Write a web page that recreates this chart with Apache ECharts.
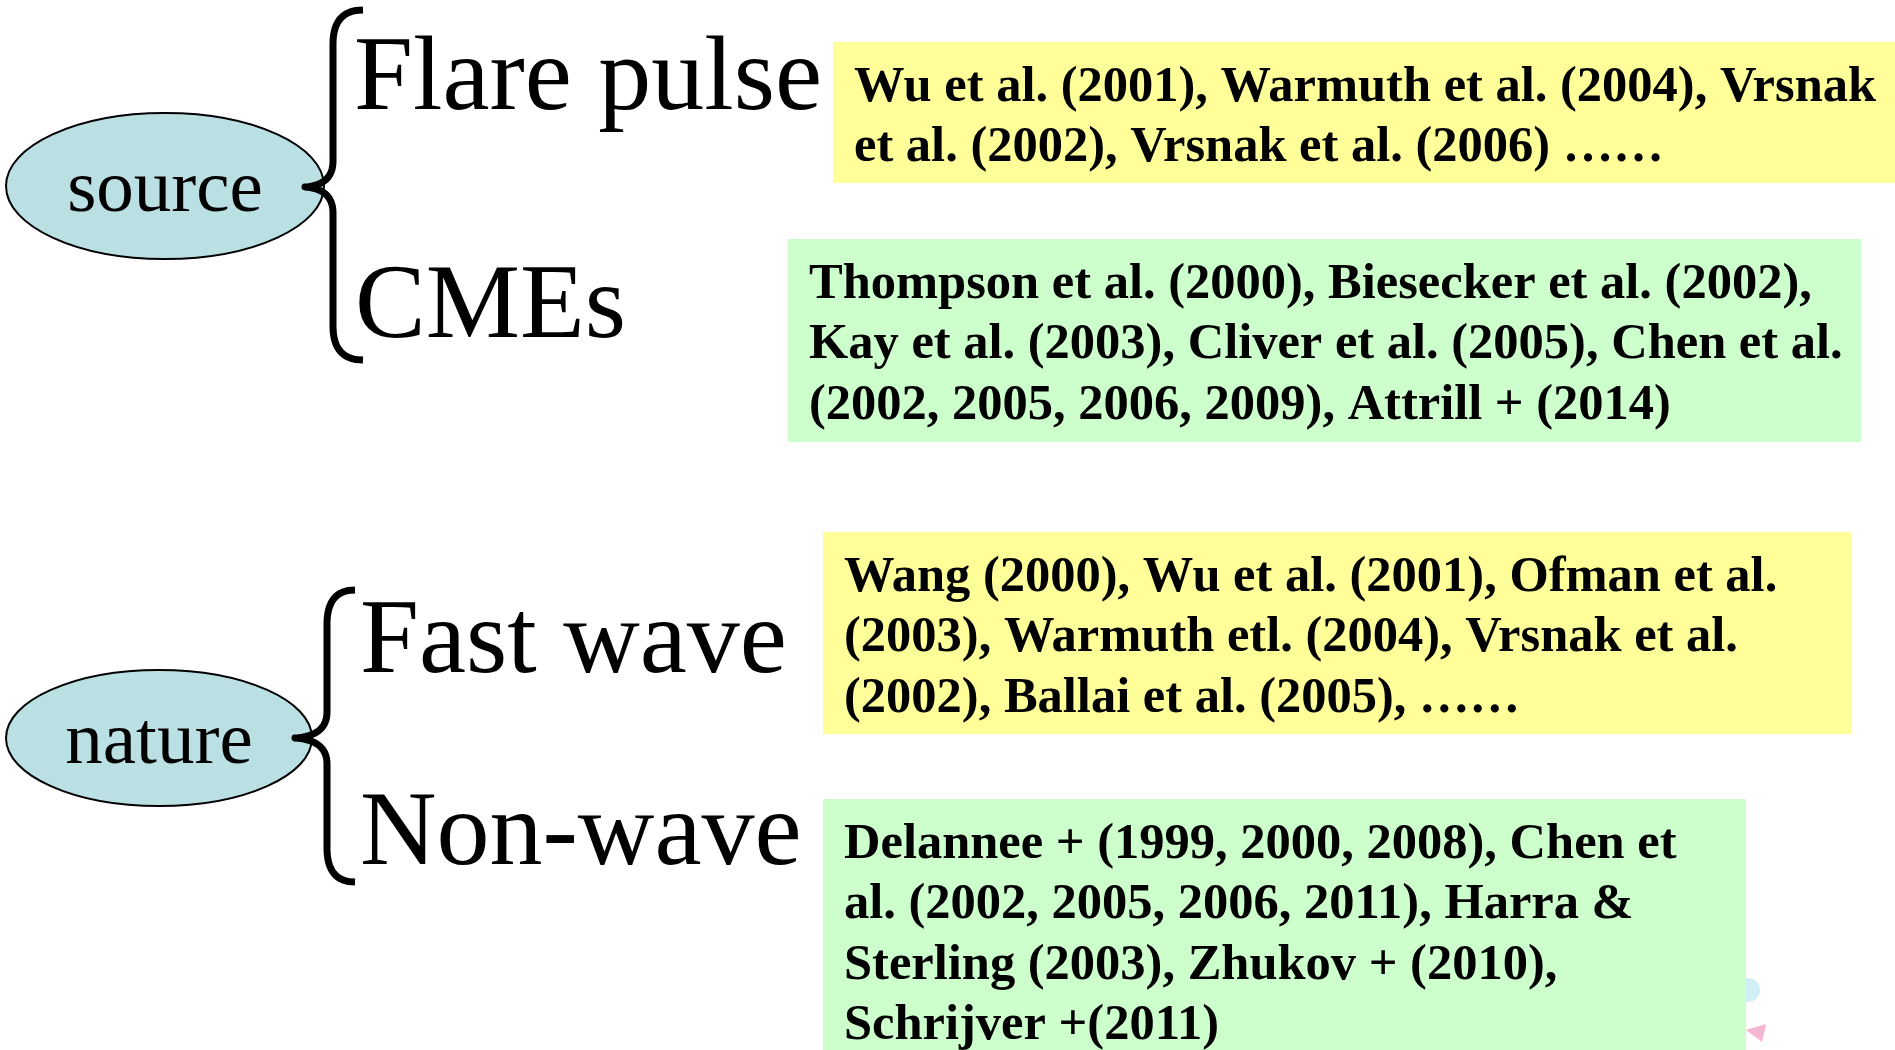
<!DOCTYPE html>
<html>
<head>
<meta charset="utf-8">
<title>EIT wave: source and nature</title>
<script src="https://cdn.jsdelivr.net/npm/echarts@6/dist/echarts.min.js"></script>
<style>
  html, body { margin: 0; padding: 0; background: #fff; }
  #main { width: 1895px; height: 1050px; }
</style>
</head>
<body>
<div id="main"></div>
<script>
// data
var groups = ['source', 'nature'];
var branches = ['Flare pulse', 'CMEs', 'Fast wave', 'Non-wave'];
var refLines = [
  ['Wu et al. (2001), Warmuth et al. (2004), Vrsnak',
   'et al. (2002), Vrsnak et al. (2006) \u2026\u2026'],
  ['Thompson et al. (2000), Biesecker et al. (2002),',
   'Kay et al. (2003), Cliver et al. (2005), Chen et al.',
   '(2002, 2005, 2006, 2009), Attrill + (2014)'],
  ['Wang (2000), Wu et al. (2001), Ofman et al.',
   '(2003), Warmuth etl. (2004), Vrsnak et al.',
   '(2002), Ballai et al. (2005), \u2026\u2026'],
  ['Delannee + (1999, 2000, 2008), Chen et',
   'al. (2002, 2005, 2006, 2011), Harra &',
   'Sterling (2003), Zhukov + (2010),',
   'Schrijver +(2011)']
];

// layout
var SERIF = '"Liberation Serif", "Times New Roman", serif';
var ASC = 0.77; // top of text box -> baseline, in em
var ovals = [
  { cx: 165, cy: 186, rx: 159, ry: 73 },
  { cx: 159, cy: 738, rx: 153, ry: 68 }
];
var braces = [
  { top: 10, tip: 187, bottom: 360, stem: 333, tipX: 305, end: 363 },
  { top: 590, tip: 738, bottom: 882, stem: 327, tipX: 295, end: 355 }
];
var branchPos = [[354, 110], [355, 338], [360, 673], [360, 865]];
var boxes = [
  { x: 833, y: 42, w: 1062, h: 141, fill: '#FFFF99' },
  { x: 788, y: 239, w: 1073, h: 203, fill: '#CCFFCC' },
  { x: 823, y: 532, w: 1028, h: 202, fill: '#FFFF99' },
  { x: 823, y: 799, w: 923, h: 260, fill: '#CCFFCC' }
];
var refFont = 50.5, lineGap = 60.5;

// sample a quadratic curve into points
function quad(p0, c, p1, n) {
  var pts = [];
  for (var i = 1; i <= n; i++) {
    var t = i / n, u = 1 - t;
    pts.push([u * u * p0[0] + 2 * u * t * c[0] + t * t * p1[0],
              u * u * p0[1] + 2 * u * t * c[1] + t * t * p1[1]]);
  }
  return pts;
}
function bracePoints(b) {
  var s = b.stem, r = 34, k = 26;
  var pts = [[b.end, b.top]];
  pts = pts.concat(quad([b.end, b.top], [s, b.top], [s, b.top + r], 16));
  pts.push([s, b.tip - k]);
  pts = pts.concat(quad([s, b.tip - k], [s, b.tip - 2], [b.tipX, b.tip], 16));
  pts = pts.concat(quad([b.tipX, b.tip], [s, b.tip + 2], [s, b.tip + k], 16));
  pts.push([s, b.bottom - r]);
  pts = pts.concat(quad([s, b.bottom - r], [s, b.bottom], [b.end, b.bottom], 16));
  return pts;
}
function baseText(t, x, y, size, weight, align) {
  return {
    type: 'text',
    style: {
      text: t, x: x, y: y - ASC * size,
      font: weight + ' ' + size + 'px ' + SERIF,
      fill: '#000', align: align, verticalAlign: 'top'
    }
  };
}

var elements = [];

// small decorations peeking out behind the last box
elements.push({ type: 'circle', shape: { cx: 1748, cy: 990, r: 12 }, style: { fill: '#CFEFF5' } });
elements.push({ type: 'polygon', shape: { points: [[1746, 1030], [1766, 1024], [1762, 1042]] }, style: { fill: '#F7B6D2' } });

boxes.forEach(function (b, i) {
  elements.push({ type: 'rect', shape: { x: b.x, y: b.y, width: b.w, height: b.h }, style: { fill: b.fill } });
  refLines[i].forEach(function (line, k) {
    elements.push(baseText(line, b.x + 21, b.y + 59 + k * lineGap, refFont, 'bold', 'left'));
  });
});

groups.forEach(function (g, i) {
  var o = ovals[i];
  elements.push({
    type: 'ellipse',
    shape: { cx: o.cx, cy: o.cy, rx: o.rx, ry: o.ry },
    style: { fill: '#BAE0E3', stroke: '#000', lineWidth: 2 }
  });
  elements.push(baseText(g, o.cx, o.cy + 26, 75, 'normal', 'center'));
  elements.push({
    type: 'polyline',
    shape: { points: bracePoints(braces[i]) },
    style: { fill: null, stroke: '#000', lineWidth: 7, lineJoin: 'round', lineCap: 'butt' }
  });
});

branches.forEach(function (t, i) {
  elements.push(baseText(t, branchPos[i][0], branchPos[i][1], 106, 'normal', 'left'));
});

var chart = echarts.init(document.getElementById('main'));
chart.setOption({
  backgroundColor: '#fff',
  animation: false,
  graphic: { elements: elements }
});
</script>
</body>
</html>
